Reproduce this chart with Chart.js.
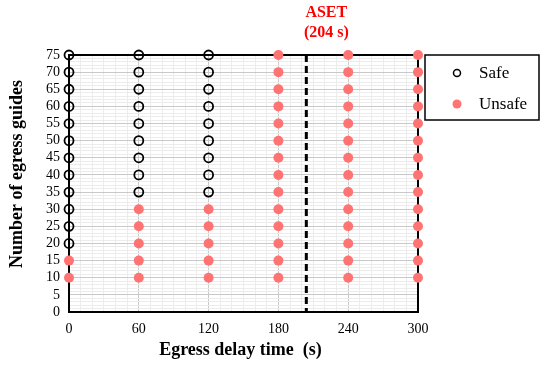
<!DOCTYPE html>
<html>
<head>
<meta charset="utf-8">
<script src="https://cdn.jsdelivr.net/npm/chart.js@4.4.1/dist/chart.umd.min.js"></script>
<style>
  html, body { margin: 0; padding: 0; background: #fff; }
  #wrap { width: 550px; height: 368px; position: relative; }
</style>
</head>
<body>
<div id="wrap"><canvas id="c"></canvas></div>
<script>
// Data
const delays = [0, 60, 120, 180, 240, 300];           // egress delay time (s)
const guides = [10, 15, 20, 25, 30, 35, 40, 45, 50, 55, 60, 65, 70, 75];
// lowest number of guides that is still "safe" for each delay (null = never safe)
const safeFrom = [20, 35, 35, null, null, null];
const asetTime = 204;
const asetLabel = ['ASET', '(204 s)'];

const FONT = "'Liberation Serif', 'Times New Roman', serif";

// Split every (delay, guides) case into safe / unsafe
const safePts = [];
const unsafePts = [];
delays.forEach((d, i) => {
  guides.forEach(g => {
    const p = { x: d, y: g };
    if (safeFrom[i] !== null && g >= safeFrom[i]) safePts.push(p);
    else unsafePts.push(p);
  });
});

// Frame, ASET line, titles, legend
const decor = {
  id: 'decor',
  beforeDatasetsDraw(chart) {
    const { ctx, chartArea: a, scales } = chart;
    ctx.save();
    // dashed ASET line
    const xa = scales.x.getPixelForValue(asetTime);
    ctx.strokeStyle = '#000';
    ctx.lineWidth = 3;
    ctx.setLineDash([7, 4]);
    ctx.beginPath();
    ctx.moveTo(xa, a.top);
    ctx.lineTo(xa, a.bottom);
    ctx.stroke();
    ctx.setLineDash([]);
    // plot frame
    ctx.lineWidth = 2;
    ctx.strokeRect(a.left, a.top, a.right - a.left, a.bottom - a.top);
    ctx.restore();
  },
  afterDraw(chart) {
    const { ctx, chartArea: a, scales } = chart;
    ctx.save();
    // ASET label
    const xa = scales.x.getPixelForValue(asetTime);
    ctx.fillStyle = '#ff0000';
    ctx.font = 'bold 16px ' + FONT;
    ctx.textAlign = 'center';
    ctx.textBaseline = 'middle';
    ctx.fillText(asetLabel[0], xa + 20, 13);
    ctx.fillText(asetLabel[1], xa + 20, 33);

    // axis titles
    ctx.fillStyle = '#000';
    ctx.font = 'bold 18px ' + FONT;
    ctx.fillText('Egress delay time  (s)', (a.left + a.right) / 2 - 3, 350);
    ctx.translate(17, 174);
    ctx.rotate(-Math.PI / 2);
    ctx.fillText('Number of egress guides', 0, 0);
    ctx.setTransform(1, 0, 0, 1, 0, 0);

    // legend box
    ctx.strokeStyle = '#000';
    ctx.lineWidth = 1.5;
    ctx.strokeRect(425, 55, 114, 65);
    ctx.font = '17px ' + FONT;
    ctx.textAlign = 'left';
    chart.data.datasets.forEach((ds, i) => {
      const y = 73 + i * 31;
      ctx.beginPath();
      ctx.arc(457, y, i === 0 ? 3.5 : 4.5, 0, Math.PI * 2);
      if (i === 0) {
        ctx.lineWidth = 1.5;
        ctx.strokeStyle = ds.borderColor;
        ctx.stroke();
      } else {
        ctx.fillStyle = ds.backgroundColor;
        ctx.fill();
      }
      ctx.fillStyle = '#000';
      ctx.fillText(ds.label, 479, y + 1);
    });
    ctx.restore();
  }
};

new Chart(document.getElementById('c'), {
  type: 'scatter',
  data: {
    datasets: [
      {
        label: 'Safe',
        data: safePts,
        pointRadius: 4.5,
        pointBorderWidth: 1.8,
        borderColor: '#000',
        backgroundColor: 'rgba(255,255,255,0)',
        pointHoverRadius: 4.5
      },
      {
        label: 'Unsafe',
        data: unsafePts,
        pointRadius: 5,
        pointBorderWidth: 0,
        borderColor: '#ff7373',
        backgroundColor: '#ff7373',
        pointHoverRadius: 5
      }
    ]
  },
  options: {
    responsive: true,
    maintainAspectRatio: false,
    animation: false,
    clip: false,
    layout: { padding: { left: 0, top: 55, right: 132, bottom: 0 } },
    plugins: {
      legend: { display: false },
      tooltip: { enabled: false }
    },
    scales: {
      x: {
        type: 'linear',
        min: 0,
        max: 300,
        afterFit: s => { s.height = 56; },
        ticks: {
          stepSize: 10,
          autoSkip: false,
          maxRotation: 0,
          padding: 9,
          color: '#000',
          font: { family: FONT, size: 14 },
          callback: v => (v % 60 === 0 ? v : '')
        },
        grid: {
          drawTicks: false,
          color: c => (c.tick && c.tick.value % 60 === 0 ? '#c9c9c9' : '#ececec'),
          lineWidth: 1
        },
        border: { display: false }
      },
      y: {
        min: 0,
        max: 75,
        afterFit: s => { s.width = 69; },
        ticks: {
          stepSize: 1,
          autoSkip: false,
          padding: 9,
          color: '#000',
          font: { family: FONT, size: 14 },
          callback: v => (v % 5 === 0 ? v : '')
        },
        grid: {
          drawTicks: false,
          color: c => (c.tick && c.tick.value % 5 === 0 ? '#c9c9c9' : '#ececec'),
          lineWidth: 1
        },
        border: { display: false }
      }
    }
  },
  plugins: [decor]
});
</script>
</body>
</html>
